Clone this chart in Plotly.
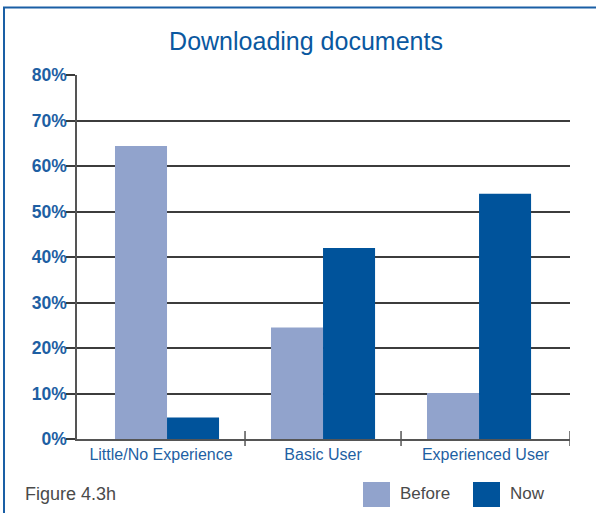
import plotly.graph_objects as go

# ---- data ----
categories = ["Little/No Experience", "Basic User", "Experienced User"]
before = [64.4, 24.5, 10.1]
now = [4.7, 42.0, 53.9]
series_names = ["Before", "Now"]
y_ticks = [0, 10, 20, 30, 40, 50, 60, 70, 80]
y_tick_labels = [f"{v}%" for v in y_ticks]
title_text = "Downloading documents"
figure_label = "Figure 4.3h"

# ---- styling / layout ----
C_BEFORE = "#91a3cc"
C_NOW = "#00539b"
BLUE_TXT = "#1e5fa3"
GRID = "#3c3c3c"
AXIS = "#555555"
FONT = "Liberation Sans, Arial, sans-serif"

W, H = 596, 513
L, R, T, B = 77, 26, 75, 74
PW, PH = W - L - R, H - T - B
X_RANGE = [-0.577, 2.583]

# category boundaries (between groups) and the axis ends
n = len(categories)
bounds = [X_RANGE[0]] + [i + 0.5 for i in range(n - 1)] + [X_RANGE[1]]
label_pos = [(bounds[i] + bounds[i + 1]) / 2 for i in range(n)]


def px(x):
    return (x - L) / PW


def py(y):
    return (H - B - y) / PH


fig = go.Figure()
fig.add_trace(go.Bar(x=categories, y=before, name=series_names[0],
                     marker=dict(color=C_BEFORE, line=dict(width=0)), showlegend=False))
fig.add_trace(go.Bar(x=categories, y=now, name=series_names[1],
                     marker=dict(color=C_NOW, line=dict(width=0)), showlegend=False))

shapes = []
# category boundary ticks crossing the x axis line
for b in bounds[1:]:
    shapes.append(dict(type="line", xref="x", yref="paper", x0=b, x1=b,
                       y0=-7 / PH, y1=8 / PH, line=dict(color=AXIS, width=1.5)))
# blue frame (top and left)
shapes.append(dict(type="path", xref="paper", yref="paper",
                   path=f"M {px(4)} {py(520)} L {px(4)} {py(7.5)} L {px(600)} {py(7.5)}",
                   line=dict(color="#1a5fa5", width=2)))

annotations = [dict(text=figure_label, xref="paper", yref="paper", x=px(23), y=py(494),
                    xanchor="left", yanchor="middle", showarrow=False,
                    font=dict(family=FONT, size=18, color="#4a4a4a"))]

# custom legend
legend_items = [(series_names[0], C_BEFORE, 363), (series_names[1], C_NOW, 473)]
for name, col, x0 in legend_items:
    shapes.append(dict(type="rect", xref="paper", yref="paper",
                       x0=px(x0), x1=px(x0 + 27), y0=py(507), y1=py(482),
                       fillcolor=col, line=dict(width=0)))
    annotations.append(dict(text=name, xref="paper", yref="paper", x=px(x0 + 35), y=py(494),
                            xanchor="left", yanchor="middle", showarrow=False,
                            font=dict(family=FONT, size=17, color="#4a4a4a")))

fig.update_layout(
    width=W, height=H,
    margin=dict(l=L, r=R, t=T, b=B, pad=0),
    paper_bgcolor="white", plot_bgcolor="white",
    barmode="group", bargap=0.333, bargroupgap=0,
    font=dict(family=FONT),
    title=dict(text=title_text, x=306 / W, xref="container", xanchor="center",
               y=1 - 41 / H, yref="container", yanchor="middle",
               font=dict(family=FONT, size=25, color="#0a58a0")),
    xaxis=dict(range=X_RANGE, showline=True, linecolor=AXIS, linewidth=2, ticks="",
               ticklen=7, showgrid=False, tickmode="array",
               tickvals=label_pos, ticktext=categories,
               tickfont=dict(family=FONT, size=16, color=BLUE_TXT)),
    yaxis=dict(range=[0, 80], tickvals=y_ticks, ticktext=y_tick_labels,
               showgrid=True, gridcolor=GRID, gridwidth=1.5, zeroline=False,
               showline=True, linecolor=AXIS, linewidth=1.5,
               ticks="outside", ticklen=9, tickwidth=1.5, tickcolor=GRID,
               ticklabelstandoff=-4,
               tickfont=dict(family=FONT, size=17.5, color=BLUE_TXT, weight="bold")),
    shapes=shapes,
    annotations=annotations,
)

fig.write_html("out.html", config={"displayModeBar": False},
               post_script="document.body.style.margin='0px';")
